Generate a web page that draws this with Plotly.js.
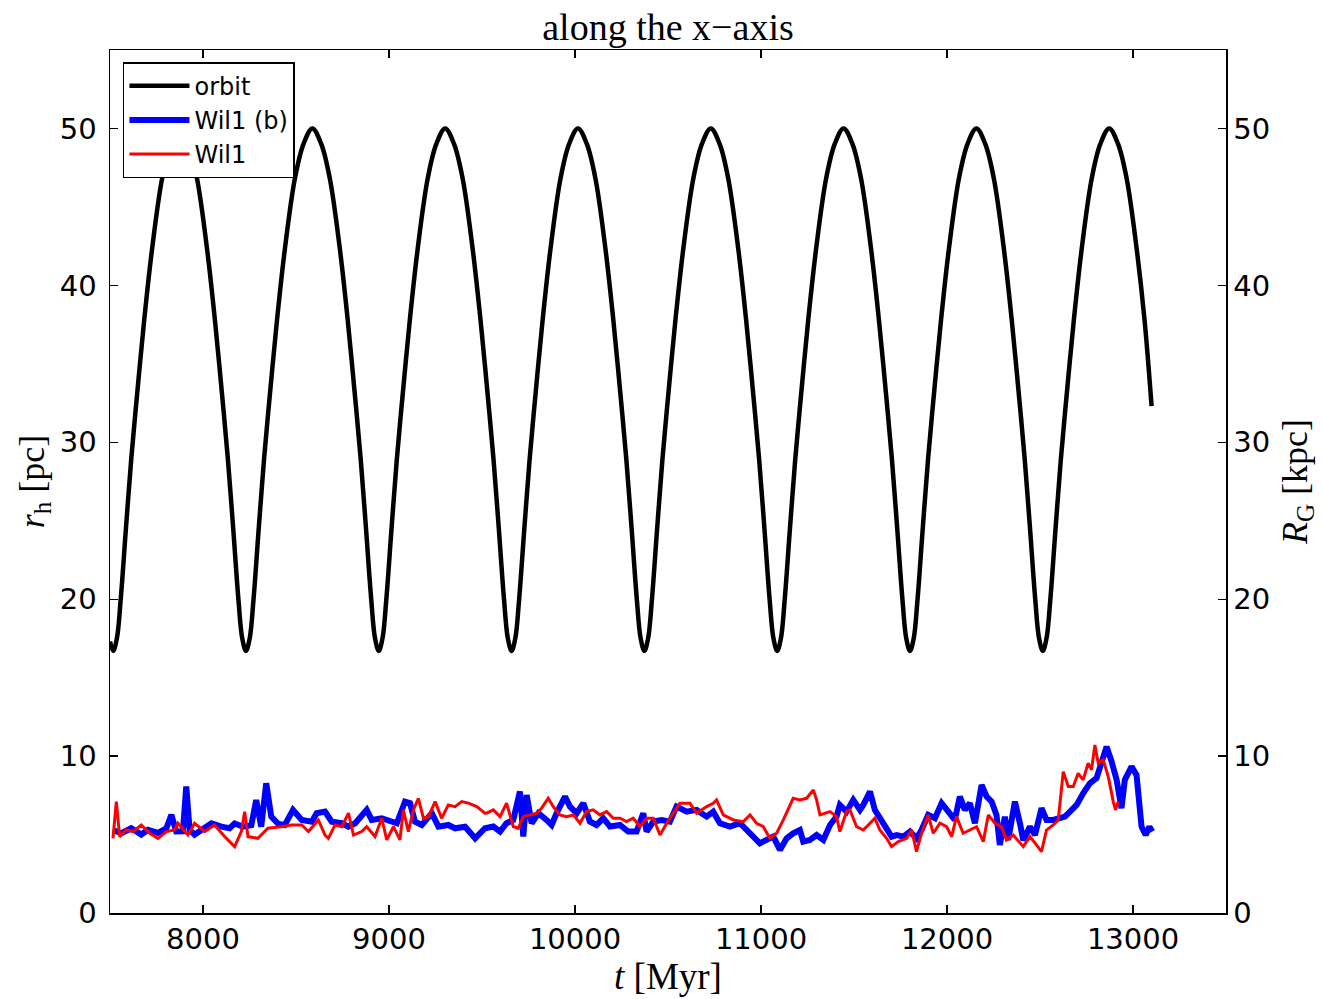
<!DOCTYPE html>
<html>
<head>
<meta charset="utf-8">
<script src="https://cdn.plot.ly/plotly-3.0.1.min.js"></script>
<style>html,body{margin:0;padding:0;background:#fff;}#chart{width:1323px;height:999px;}</style>
</head>
<body>
<div id="chart"></div>
<script>
// ---- orbit (R_G, kpc) ----
var orbitT = [7500,
  7517,7537,7557,7585,7614,7648,7684,7726,7780,7826,7874,7922,7968,8022,8064,8100,8134,8163,8191,8211,
  8231,8251,8271,8299,8328,8362,8398,8440,8494,8540,8588,8636,8682,8736,8778,8814,8848,8877,8905,8925,
  8945,8965,8985,9013,9042,9076,9112,9154,9208,9254,9302,9350,9396,9450,9492,9528,9562,9591,9619,9639,
  9659,9679,9699,9727,9756,9790,9826,9868,9922,9968,10016,10064,10110,10164,10206,10242,10276,10305,10333,10353,
  10373,10393,10413,10441,10470,10504,10540,10582,10636,10682,10730,10778,10824,10878,10920,10956,10990,11019,11047,11067,
  11087,11107,11127,11155,11184,11218,11254,11296,11350,11396,11444,11492,11538,11592,11634,11670,11704,11733,11761,11781,
  11801,11821,11841,11869,11898,11932,11968,12010,12064,12110,12158,12206,12252,12306,12348,12384,12418,12447,12475,12495,
  12515,12535,12555,12583,12612,12646,12682,12724,12778,12824,12872,12920,12966,13020,13062,13100];
var orbitR = [17.3,
  16.7,17.5,19.9,24.4,28.9,33.35,37.8,42.3,46.8,49.0,50.0,49.0,46.8,42.3,37.8,33.35,28.9,24.4,19.9,17.5,
  16.7,17.5,19.9,24.4,28.9,33.35,37.8,42.3,46.8,49.0,50.0,49.0,46.8,42.3,37.8,33.35,28.9,24.4,19.9,17.5,
  16.7,17.5,19.9,24.4,28.9,33.35,37.8,42.3,46.8,49.0,50.0,49.0,46.8,42.3,37.8,33.35,28.9,24.4,19.9,17.5,
  16.7,17.5,19.9,24.4,28.9,33.35,37.8,42.3,46.8,49.0,50.0,49.0,46.8,42.3,37.8,33.35,28.9,24.4,19.9,17.5,
  16.7,17.5,19.9,24.4,28.9,33.35,37.8,42.3,46.8,49.0,50.0,49.0,46.8,42.3,37.8,33.35,28.9,24.4,19.9,17.5,
  16.7,17.5,19.9,24.4,28.9,33.35,37.8,42.3,46.8,49.0,50.0,49.0,46.8,42.3,37.8,33.35,28.9,24.4,19.9,17.5,
  16.7,17.5,19.9,24.4,28.9,33.35,37.8,42.3,46.8,49.0,50.0,49.0,46.8,42.3,37.8,33.35,28.9,24.4,19.9,17.5,
  16.7,17.5,19.9,24.4,28.9,33.35,37.8,42.3,46.8,49.0,50.0,49.0,46.8,42.3,37.8,32.3];

// ---- Wil1 (b) half-mass radius (pc) ----
var blueT = [7516,7561,7614,7668,7704,7758,7803,7830,7856,7892,7910,7928,7955,8000,8045,8098,8143,8170,8215,8260,8286,8313,8340,8367,8403,8439,8484,
  8531,8585,8611,8656,8692,8746,8782,8818,8880,8907,8961,9015,9042,9086,9113,9140,9176,9230,9266,9319,9355,9409,9463,9516,
  9561,9597,9632,9668,9704,9722,9740,9767,9803,9847,9874,9901,9946,9973,10009,10045,10080,10116,10152,10188,10242,10286,10331,10367,10385,10421,10466,
  10510,10546,10600,10654,10708,10743,10779,10833,10887,10923,10958,10994,11030,11066,11102,11138,11173,11209,11227,11263,11299,11335,11371,11406,11424,11460,11496,
  11532,11550,11586,11612,11639,11675,11702,11729,11765,11801,11836,11863,11899,11935,11971,12007,12042,12069,12096,12123,12150,12186,12213,12240,12266,12284,12311,12329,12365,12392,12410,12446,12473,12508,12535,12571,12607,12634,12661,12697,12732,12768,12804,12840,12858,12885,12912,12938,12956,12992,13019,13046,13068,13088,13104];
var blueV = [5.29,5.08,5.40,5.0,5.3,5.1,5.4,6.25,5.19,5.2,8.06,5.3,5.0,5.4,5.72,5.5,5.4,5.7,5.5,5.6,7.2,5.5,8.27,6.14,5.7,5.6,6.57,
  5.93,5.82,6.36,6.46,5.82,5.72,5.5,5.72,6.57,5.93,6.04,5.82,5.72,7.1,7.0,5.82,5.61,6.36,5.5,5.61,5.4,5.5,4.76,5.4,
  5.51,5.19,5.72,5.93,7.74,4.87,7.52,5.72,6.36,5.93,5.61,6.36,7.42,6.78,6.36,7.0,5.83,5.61,6.04,5.51,5.61,5.19,5.19,6.36,5.19,5.83,5.93,
  5.82,6.78,6.46,6.57,6.14,6.46,5.72,5.51,5.72,5.29,4.87,4.44,4.66,4.87,4.02,4.76,5.08,5.29,4.55,4.66,4.97,4.66,5.61,6.14,6.89,6.46,7.21,
  6.57,6.89,7.74,6.57,6.04,5.29,4.87,4.97,4.87,5.19,4.76,5.29,6.25,6.04,7.0,6.46,5.93,7.42,6.57,7.0,5.72,8.16,7.42,7.1,6.25,4.34,6.14,4.65,7.1,5.72,4.65,5.5,4.97,6.68,5.93,5.93,6.04,6.14,6.46,6.89,7.63,8.27,8.59,10.08,10.6,9.65,8.48,6.68,8.48,9.33,8.8,5.5,4.97,5.5,5.19];

// ---- Wil1 half-mass radius (pc) ----
var redT = [7516,7534,7552,7588,7623,7668,7713,7758,7803,7847,7865,7919,7955,8009,8062,8116,8170,8206,8224,8242,8295,8349,8421,8475,
  8531,8567,8620,8656,8674,8710,8746,8782,8809,8853,8880,8925,8961,8988,9024,9059,9077,9104,9131,9158,9185,9212,9248,9283,9319,9355,9391,9427,9472,9516,
  9525,9561,9597,9632,9668,9695,9722,9758,9794,9820,9856,9883,9919,9955,9991,10027,10062,10098,10134,10170,10206,10242,10277,10313,10349,10385,10421,10457,10493,
  10564,10618,10654,10708,10743,10761,10797,10851,10905,10941,10976,11012,11048,11084,11120,11173,11209,11245,11281,11299,11317,11371,11406,11424,11460,
  11478,11514,11550,11586,11612,11639,11675,11702,11738,11783,11810,11836,11863,11899,11926,11962,11998,12025,12051,12087,12123,12159,12195,12222,12258,12293,12320,12356,12410,12446,12481,12508,12535,12571,12598,12625,12652,12679,12705,12732,12759,12777,12795,12813,12840,12867,12894,12906,12920];
var redV = [4.76,7.1,4.87,5.29,5.19,5.61,5.08,4.76,5.19,5.29,5.72,4.97,5.72,5.19,5.61,4.87,4.23,5.19,6.46,4.87,4.76,5.4,5.5,5.61,
  5.61,5.19,5.93,4.97,4.76,5.61,5.5,6.36,4.97,5.19,5.5,4.87,6.04,4.66,5.5,4.66,6.57,5.19,6.57,7.31,6.04,6.14,7.1,6.04,6.89,6.78,7.1,7.0,6.78,6.36,
  6.36,6.57,6.14,7.0,5.51,5.4,6.14,6.25,6.36,6.68,7.31,6.78,6.25,6.14,6.25,5.72,6.46,6.57,6.25,6.46,6.04,6.04,5.83,6.04,5.51,6.04,6.04,4.97,5.72,
  6.99,6.99,6.36,6.78,6.99,7.21,6.25,5.93,5.82,6.25,5.72,5.51,4.76,5.08,5.93,7.31,7.21,7.31,7.84,7.21,6.25,6.46,6.14,5.19,6.46,
  6.57,5.5,5.29,5.72,6.04,5.29,4.76,4.23,4.55,4.76,5.29,3.91,5.08,6.25,5.08,5.72,5.5,4.87,6.14,5.08,5.29,5.5,4.55,6.25,5.72,5.5,4.65,4.97,4.23,4.87,4.34,3.91,5.29,5.61,5.93,9.01,8.06,8.06,8.9,8.48,9.55,9.12,10.71,9.55,9.76,8.69,7.1,6.57,7.1];

var xTicks = [8000, 9000, 10000, 11000, 12000, 13000];
var yTicks = [0, 10, 20, 30, 40, 50];

var serif = 'Liberation Serif, DejaVu Serif, serif';
var sans = 'DejaVu Sans, sans-serif';

var traces = [
  {x: orbitT, y: orbitR, name: 'orbit', type: 'scatter', mode: 'lines', yaxis: 'y2',
   line: {color: '#000000', width: 4.5, shape: 'spline', smoothing: 1}},
  {x: blueT, y: blueV, name: 'Wil1 (b)', type: 'scatter', mode: 'lines',
   line: {color: '#0000ff', width: 6}},
  {x: redT, y: redV, name: 'Wil1', type: 'scatter', mode: 'lines',
   line: {color: '#ff0000', width: 3}}
];

var axCommon = {
  showgrid: false, zeroline: false, showline: true, linecolor: '#000', linewidth: 1.5,
  ticks: 'inside', ticklen: 8, tickwidth: 1.3, tickcolor: '#000',
  tickfont: {family: sans, size: 29, color: '#000'}
};

var layout = {
  width: 1323, height: 999,
  margin: {l: 110, r: 97, t: 50, b: 86, pad: 0},
  paper_bgcolor: '#fff', plot_bgcolor: '#fff',
  showlegend: true,
  title: {text: 'along the x\u2212axis', font: {family: serif, size: 38, color: '#000'},
          x: 0.5, xref: 'paper', xanchor: 'center', y: 0.973, yanchor: 'middle'},
  xaxis: Object.assign({}, axCommon, {
    range: [7500, 13500], tickmode: 'array', tickvals: xTicks, ticktext: xTicks.map(String),
    mirror: 'ticks', ticklabelstandoff: 0,
    title: {text: '<i>t</i> [Myr]', font: {family: serif, size: 37, color: '#000'}, standoff: 2}
  }),
  yaxis: Object.assign({}, axCommon, {
    range: [0, 55], tickmode: 'array', tickvals: yTicks, ticktext: yTicks.map(String),
    mirror: false, ticklabelstandoff: 6,
    title: {text: '<i>r</i><sub>h</sub> [pc]', font: {family: serif, size: 36, color: '#000'}, standoff: 4}
  }),
  yaxis2: Object.assign({}, axCommon, {
    range: [0, 55], tickmode: 'array', tickvals: yTicks, ticktext: yTicks.map(String),
    overlaying: 'y', side: 'right', mirror: false, ticklabelstandoff: 0,
    title: {text: '<i>R</i><sub>G</sub> [kpc]', font: {family: serif, size: 36, color: '#000'}, standoff: 12}
  }),
  legend: {x: 0.0116, y: 0.986, xanchor: 'left', yanchor: 'top',
           bgcolor: '#fff', bordercolor: '#000', borderwidth: 1.5, itemwidth: 60,
           font: {family: sans, size: 24, color: '#000'}, tracegroupgap: 0}
};

Plotly.newPlot('chart', traces, layout, {displayModeBar: false, staticPlot: true});
</script>
</body>
</html>
